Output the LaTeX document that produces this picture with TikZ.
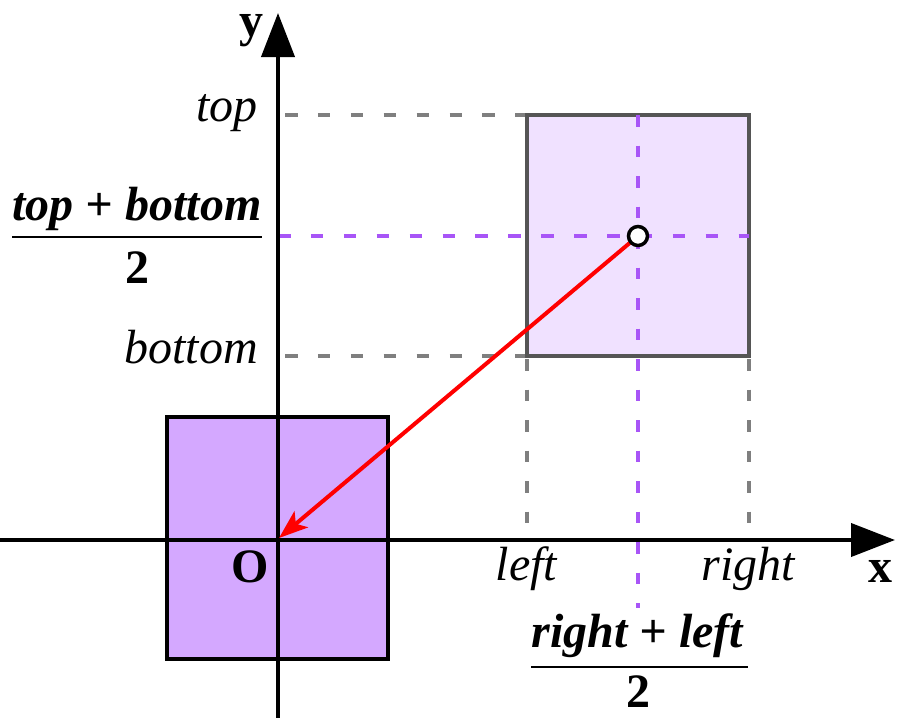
\documentclass[tikz,border=0pt]{standalone}
\usepackage{fontspec}
\setmainfont{Liberation Serif}[
  BoldFont={Liberation Serif Bold},
  ItalicFont={Liberation Serif Italic},
  BoldItalicFont={Liberation Serif Bold Italic}]
\usetikzlibrary{arrows.meta}
\definecolor{sqdark}{HTML}{D4A8FF}
\definecolor{sqlight}{HTML}{F0E1FF}
\definecolor{dpurple}{HTML}{A855F7}
\definecolor{dgray}{HTML}{7F7F7F}
\definecolor{edgegray}{HTML}{555555}
\begin{document}
\begin{tikzpicture}[x=1pt,y=-1pt,
  lbl/.style={inner sep=0pt, font=\fontsize{48}{56}\selectfont},
  axisline/.style={line width=4pt, -{Triangle[length=44pt,width=33pt]}},
  hgray/.style={dgray, line width=3.5pt, dash pattern=on 12.5pt off 20.4pt},
  vgray/.style={dgray, line width=3.5pt, dash pattern=on 11.5pt off 19pt},
  hpurple/.style={dpurple, line width=3.5pt, dash pattern=on 12.5pt off 20.4pt},
  vpurple/.style={dpurple, line width=3.5pt, dash pattern=on 11.5pt off 19pt},
  fracbar/.style={line width=2pt},
  redarrow/.style={red, line width=4pt, -{Stealth[length=29pt,width=21pt,inset=7pt]}},
  centerdot/.style={circle, draw=black, fill=white, line width=3.5pt, minimum size=19pt, inner sep=0pt}
]
\useasboundingbox (0,0) rectangle (898,718);

% coordinates
\coordinate (O) at (278,540);
\coordinate (otip) at (279,538);
\coordinate (ybot) at (278,718);
\coordinate (ytop) at (278,13);
\coordinate (xl) at (0,540);
\coordinate (xr) at (895,540);
\coordinate (c) at (638,236);

% gray dashed guides (behind)
\draw[hgray] (285,115) -- (527,115);
\draw[hgray] (285,356) -- (527,356);
\draw[vgray] (527,115) -- (527,525);
\draw[vgray] (749,115) -- (749,525);

% squares
\draw[fill=sqdark, draw=black, line width=4pt] (167,417) rectangle (388,659);
\draw[fill=sqlight, draw=edgegray, line width=4pt] (527,115) rectangle (749,356);

% purple dashed guides
\draw[hpurple] (278,236) -- (749,236);
\draw[vpurple] (638,115) -- (638,608);

% axes
\draw[axisline] (ybot) -- (ytop);
\draw[axisline] (xl) -- (xr);

% red arrow
\draw[redarrow] (c) -- (otip);
\node[centerdot] (cdot) at (c) {};

% labels
\node[lbl, anchor=base] (ylab) at (251,36) {\textbf{y}};
\node[lbl, anchor=base] (xlab) at (880,582) {\textbf{x}};
\node[lbl, anchor=base] (olab) at (250,582) {\textbf{O}};
\node[lbl, anchor=base east] (toplab) at (258,121) {\textit{top}};
\node[lbl, anchor=base east] (botlab) at (258,363) {\textit{bottom}};
\node[lbl, anchor=base] (leftlab) at (527,580) {\textit{left}};
\node[lbl, anchor=base] (rightlab) at (749,580) {\textit{right}};

% vertical fraction
\node[lbl, anchor=base] (tbnum) at (137,220) {\textbf{\textit{top + bottom}}};
\draw[fracbar] (12,237) -- (262,237);
\node[lbl, anchor=base] (tbden) at (137,283) {\textbf{2}};

% horizontal fraction
\node[lbl, anchor=base] (rlnum) at (638,647) {\textbf{\textit{right + left}}};
\draw[fracbar] (531,667) -- (748,667);
\node[lbl, anchor=base] (rlden) at (638,707) {\textbf{2}};
\end{tikzpicture}
\end{document}
